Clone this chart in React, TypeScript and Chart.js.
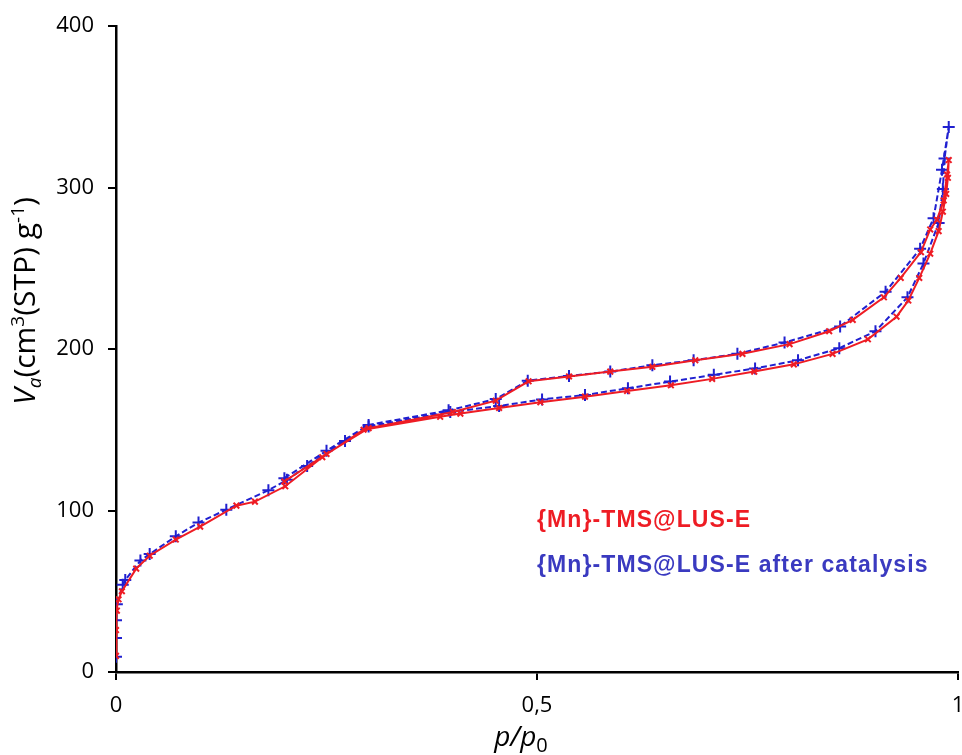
import React, { useEffect, useRef } from "react";
import { Chart, registerables } from "chart.js";

Chart.register(...registerables);

// Series 1: {Mn}-TMS@LUS-E (adsorption then desorption)
const redX = [0.0, 0.0, 0.001, 0.003, 0.007, 0.024, 0.04, 0.071, 0.1, 0.143, 0.165, 0.201, 0.245, 0.294, 0.385, 0.409, 0.455, 0.504, 0.557, 0.607, 0.659, 0.708, 0.758, 0.805, 0.851, 0.893, 0.927, 0.941, 0.954, 0.967, 0.977, 0.982, 0.986, 0.988, 0.989,
  0.987, 0.983, 0.975, 0.967, 0.956, 0.932, 0.912, 0.875, 0.847, 0.8, 0.744, 0.688, 0.637, 0.587, 0.538, 0.49, 0.451, 0.4, 0.3, 0.25, 0.2];
const redY = [10, 26, 38, 45, 50, 64, 72, 82, 90, 103, 105.5, 115, 133, 150, 158, 160, 163.5, 167, 170.5, 174, 177.5, 181.5, 186, 190.5, 197, 206, 220, 230, 244, 259, 273, 285, 296, 306, 317,
  308, 292, 280, 274, 260, 244, 232, 218, 211, 203, 197, 193, 189, 186, 183, 180, 168, 161, 151, 135, 118];

// Series 2: {Mn}-TMS@LUS-E after catalysis
const blueX = [0.0, 0.0, 0.0, 0.001, 0.008, 0.011, 0.029, 0.04, 0.071, 0.098, 0.131, 0.181, 0.203, 0.227, 0.272, 0.3, 0.397, 0.455, 0.506, 0.557, 0.608, 0.658, 0.71, 0.759, 0.81, 0.859, 0.902, 0.94, 0.959, 0.977, 0.982, 0.984, 0.989,
  0.981, 0.971, 0.955, 0.914, 0.86, 0.794, 0.738, 0.686, 0.637, 0.587, 0.538, 0.489, 0.451, 0.395, 0.3, 0.25, 0.2];
const blueY = [9.5, 21, 32, 42, 54, 57, 69, 73, 84, 92.5, 100.5, 112.5, 119, 127.5, 143, 152, 161, 164.7, 168.8, 171.5, 175.7, 179.8, 184, 188, 193, 200.5, 211, 232, 253, 278, 299, 318, 337.5,
  311, 281, 262, 235.5, 214, 204, 197, 193, 190, 186, 183.3, 180.4, 169, 162, 153, 137, 120];

const seriesNames = ["{Mn}-TMS@LUS-E", "{Mn}-TMS@LUS-E after catalysis"];
const xTicks = [0, 0.5, 1];
const yTicks = [0, 100, 200, 300, 400];

const RED = "#ee1c24";
const BLUE = "#2020d0";
const LEGEND_BLUE = "#3a3ac0";

type Piece = { t: string; font: string; dy: number };

function drawPieces(ctx: CanvasRenderingContext2D, pieces: Piece[], cx: number, cy: number) {
  let total = 0;
  for (const p of pieces) { ctx.font = p.font; total += ctx.measureText(p.t).width; }
  let x = cx - total / 2;
  ctx.textBaseline = "alphabetic";
  ctx.textAlign = "left";
  for (const p of pieces) {
    ctx.font = p.font;
    ctx.fillText(p.t, x, cy + p.dy);
    x += ctx.measureText(p.t).width;
  }
}

const textPlugin = {
  id: "customText",
  afterDraw(chart: any) {
    const ctx: CanvasRenderingContext2D = chart.ctx;
    const F = "'Open Sans'";
    ctx.save();
    ctx.fillStyle = "#000";
    ctx.translate(35, 301);
    ctx.rotate(-Math.PI / 2);
    const big = 30, small = 19;
    drawPieces(ctx, [
      { t: "V", font: `italic ${big}px ${F}`, dy: 0 },
      { t: "a", font: `italic ${small}px ${F}`, dy: 6 },
      { t: "(cm", font: `${big}px ${F}`, dy: 0 },
      { t: "3", font: `${small}px ${F}`, dy: -11 },
      { t: "(STP) g", font: `${big}px ${F}`, dy: 0 },
      { t: "-1", font: `${small}px ${F}`, dy: -11 },
      { t: ")", font: `${big}px ${F}`, dy: 0 },
    ], 0, 0);
    ctx.restore();

    ctx.save();
    ctx.fillStyle = "#000";
    drawPieces(ctx, [
      { t: "p", font: `italic 28px ${F}`, dy: 0 },
      { t: "/", font: `italic 28px ${F}`, dy: 0 },
      { t: "p", font: `italic 28px ${F}`, dy: 0 },
      { t: "0", font: `20px ${F}`, dy: 6 },
    ], 521, 746);
    ctx.restore();

    ctx.save();
    ctx.textAlign = "left";
    ctx.textBaseline = "middle";
    ctx.font = "bold 23px 'Liberation Sans', Arial, sans-serif";
    (ctx as any).letterSpacing = "1.1px";
    ctx.fillStyle = RED;
    ctx.fillText(seriesNames[0], 537, 521);
    ctx.fillStyle = LEGEND_BLUE;
    ctx.fillText(seriesNames[1], 537, 566);
    ctx.restore();
  },
};

export default function App() {
  const ref = useRef<HTMLCanvasElement>(null);
  useEffect(() => {
    if (!ref.current) return;
    const red = redX.map((x, i) => ({ x, y: redY[i] }));
    const blue = blueX.map((x, i) => ({ x, y: blueY[i] }));
    const chart = new Chart(ref.current, {
      type: "scatter",
      data: {
        datasets: [
          {
            label: seriesNames[0],
            data: red,
            showLine: true,
            borderColor: RED,
            backgroundColor: RED,
            borderWidth: 2,
            pointStyle: "crossRot",
            pointRadius: 4,
            pointBorderWidth: 2,
            pointBorderColor: RED,
          },
          {
            label: seriesNames[1],
            data: blue,
            showLine: true,
            borderColor: BLUE,
            backgroundColor: BLUE,
            borderWidth: 2,
            borderDash: [6, 3],
            pointStyle: "cross",
            pointRadius: 6,
            pointBorderWidth: 2,
            pointBorderColor: BLUE,
          },
        ],
      },
      options: {
        animation: false,
        responsive: false,
        devicePixelRatio: 1,
        layout: { padding: { top: 26, right: 5, left: 0, bottom: 0 } },
        plugins: { legend: { display: false }, tooltip: { enabled: false } },
        scales: {
          x: {
            type: "linear",
            min: 0,
            max: 1,
            afterBuildTicks: (s: any) => { s.ticks = xTicks.map((v) => ({ value: v })); },
            afterFit: (s: any) => { s.height = 83; s.paddingLeft = 0; s.paddingRight = 0; },
            ticks: {
              color: "#000",
              font: { family: "'Open Sans'", size: 22 },
              padding: 13,
              maxRotation: 0,
              callback: (v: any) => String(v).replace(".", ","),
            },
            grid: { drawOnChartArea: false, drawTicks: true, tickLength: 8, color: "#000", lineWidth: 2 },
            border: { display: true, color: "#000", width: 2.5 },
          },
          y: {
            type: "linear",
            min: 0,
            max: 400,
            afterBuildTicks: (s: any) => { s.ticks = yTicks.map((v) => ({ value: v })); },
            afterFit: (s: any) => { s.width = 116; s.paddingTop = 0; s.paddingBottom = 0; },
            ticks: {
              color: "#000",
              font: { family: "'Open Sans'", size: 22 },
              padding: 14,
            },
            grid: { drawOnChartArea: false, drawTicks: true, tickLength: 8, color: "#000", lineWidth: 2 },
            border: { display: true, color: "#000", width: 2.5 },
          },
        },
      },
      plugins: [textPlugin],
    } as any);
    return () => chart.destroy();
  }, []);
  return (
    <div style={{ position: "fixed", left: 0, top: 0, width: 966, height: 755, background: "#fff" }}>
      <canvas ref={ref} width={966} height={755} style={{ width: 966, height: 755, display: "block" }} />
    </div>
  );
}
